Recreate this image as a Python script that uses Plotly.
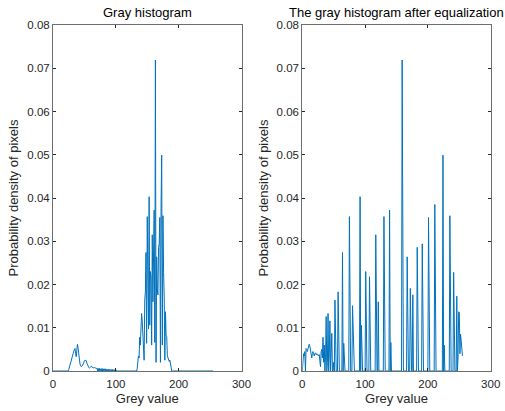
import plotly.graph_objects as go

# ---------------- data ----------------
grey_levels = list(range(256))

# Original histogram: non-zero grey levels and their probability densities
orig_levels = [25, 26, 27, 28, 29, 30, 31, 32, 33, 34, 35, 36, 37, 38, 39, 40,
               41, 42, 43, 44, 45, 46, 47, 48, 49, 50, 51, 52, 53, 54, 55, 56,
               57, 58, 59, 60, 61, 62, 63, 64, 65, 66, 67, 68, 69, 70, 72, 74,
               76, 78, 80, 82, 84, 86, 88, 90, 92, 94, 96, 98, 100,
               134, 135, 136, 137, 138, 139, 140, 141, 142, 143, 144, 145, 146,
               147, 148, 149, 150, 151, 152, 153, 154, 155, 156, 157, 158, 159,
               160, 161, 162, 163, 164, 165, 166, 167, 168, 169, 170, 171, 172,
               173, 174, 175, 176, 177, 178, 179, 180, 181, 182, 183, 184, 185,
               186, 187, 188]
orig_values = [0.0003, 0.0008, 0.0015, 0.0020, 0.0022, 0.0024, 0.0030, 0.0040,
               0.0046, 0.0050, 0.0052, 0.0040, 0.0033, 0.0050, 0.0062, 0.0052,
               0.0035, 0.0022, 0.0016, 0.0012, 0.0010, 0.0011, 0.0013, 0.0016,
               0.0020, 0.0024, 0.0023, 0.0025, 0.0024, 0.0018, 0.0013, 0.0010,
               0.0008, 0.0007, 0.0008, 0.0010, 0.0011, 0.0009, 0.0008, 0.0008,
               0.0007, 0.0008, 0.0007, 0.0007, 0.0006, 0.0007, 0.0006, 0.0006,
               0.0005, 0.0006, 0.0005, 0.0005, 0.0005, 0.0004, 0.0004, 0.0004,
               0.0003, 0.0004, 0.0003, 0.0003, 0.0002,
               0.0005, 0.0033, 0.0035, 0.0030, 0.0078, 0.0060, 0.0126, 0.0133,
               0.0116, 0.0087, 0.0087, 0.0025, 0.0164, 0.0183, 0.0274, 0.0064,
               0.0357, 0.0151, 0.0097, 0.0403, 0.0106, 0.0230, 0.0218, 0.0060,
               0.0315, 0.0160, 0.0357, 0.0372, 0.0066, 0.0719, 0.0020, 0.0264,
               0.0191, 0.0176, 0.0286, 0.0294, 0.0355, 0.0020, 0.0385, 0.0499,
               0.0060, 0.0359, 0.0228, 0.0173, 0.0025, 0.0137, 0.0083, 0.0080,
               0.0035, 0.0028, 0.0025, 0.0022, 0.0025, 0.0015, 0.0008]

# Equalized histogram: non-zero grey levels and their probability densities
eq_levels = [1, 2, 3, 4, 6, 7, 8, 9, 10, 11, 12, 13, 14, 15, 16, 17, 18, 19,
             20, 21, 22, 23, 24, 25, 26, 27, 28, 29, 30, 31, 32, 33, 34, 35,
             37, 38, 40, 41, 43, 44, 46, 47, 50, 52, 57, 64, 66, 75, 80, 81,
             92, 94, 101, 107, 108, 117, 121, 130, 139, 141, 159, 167, 172,
             176, 183, 191, 201, 211, 224, 226, 235, 241, 246, 248, 249, 250,
             251, 252, 253, 254, 255]
eq_values = [0.0038, 0.0040, 0.0035, 0.0045, 0.0052, 0.0050, 0.0045, 0.0050,
             0.0058, 0.0062, 0.0058, 0.0050, 0.0045, 0.0030, 0.0040, 0.0045,
             0.0040, 0.0035, 0.0040, 0.0042, 0.0038, 0.0040, 0.0037, 0.0038,
             0.0035, 0.0038, 0.0022, 0.0010, 0.0045, 0.0050, 0.0030, 0.0078,
             0.0020, 0.0060, 0.0030, 0.0126, 0.0020, 0.0133, 0.0040, 0.0116,
             0.0087, 0.0087, 0.0020, 0.0164, 0.0183, 0.0274, 0.0064, 0.0357,
             0.0151, 0.0097, 0.0403, 0.0106, 0.0230, 0.0218, 0.0060, 0.0315,
             0.0160, 0.0357, 0.0372, 0.0066, 0.0719, 0.0264, 0.0191, 0.0176,
             0.0286, 0.0294, 0.0355, 0.0385, 0.0499, 0.0060, 0.0359, 0.0228,
             0.0173, 0.0030, 0.0137, 0.0135, 0.0040, 0.0085, 0.0070, 0.0037,
             0.0035]

x_ticks = [0, 100, 200, 300]
y_ticks = [0, 0.01, 0.02, 0.03, 0.04, 0.05, 0.06, 0.07, 0.08]
y_tick_labels = ["0", "0.01", "0.02", "0.03", "0.04", "0.05", "0.06", "0.07", "0.08"]

titles = ["Gray histogram", "The gray histogram after equalization"]
x_label = "Grey value"
y_label = "Probability density of pixels"

# full 256-level arrays (zero where no pixels)
orig_map = dict(zip(orig_levels, orig_values))
eq_map = dict(zip(eq_levels, eq_values))
orig_hist = [orig_map.get(g, 0.0) for g in grey_levels]
eq_hist = [eq_map.get(g, 0.0) for g in grey_levels]

# ---------------- figure ----------------
LINE = "#0072BD"
AXC = "#262626"
FONT = "Liberation Sans, Arial, Helvetica, sans-serif"

fig = go.Figure()
fig.add_trace(go.Scatter(x=grey_levels, y=orig_hist, mode="lines",
                         line=dict(color=LINE, width=1), xaxis="x", yaxis="y",
                         showlegend=False))
fig.add_trace(go.Scatter(x=grey_levels, y=eq_hist, mode="lines",
                         line=dict(color=LINE, width=1), xaxis="x2", yaxis="y2",
                         showlegend=False))

W, H = 505, 411
ax_top = 25
ax_bot = 371
ydom = [1 - ax_bot / H, 1 - ax_top / H]
xdom1 = [53 / W, 241.5 / W]
xdom2 = [302.3 / W, 490.7 / W]

def xaxis_cfg(dom, anchor):
    return dict(domain=dom, anchor=anchor, range=[0, 300], tickvals=x_ticks,
                ticks="inside", ticklen=3, tickcolor=AXC, showline=True,
                linecolor="#6e6e6e", linewidth=1, mirror="ticks", showgrid=False,
                zeroline=False, automargin=False, ticklabelstandoff=2,
                tickfont=dict(size=11.5, color=AXC, family=FONT),
                title=dict(text=x_label, font=dict(size=13, color=AXC, family=FONT),
                           standoff=5))

def yaxis_cfg(anchor):
    return dict(domain=ydom, anchor=anchor, range=[0, 0.08], tickvals=y_ticks,
                ticktext=y_tick_labels, ticks="inside", ticklen=3, tickcolor=AXC,
                showline=True, linecolor="#6e6e6e", linewidth=1, mirror="ticks",
                showgrid=False, zeroline=False, automargin=False,
                tickfont=dict(size=11.5, color=AXC, family=FONT),
                title=dict(text=y_label, font=dict(size=13, color=AXC, family=FONT),
                           standoff=5))

fig.update_layout(
    width=W, height=H,
    margin=dict(l=0, r=0, t=0, b=0),
    paper_bgcolor="white", plot_bgcolor="white",
    xaxis=xaxis_cfg(xdom1, "y"),
    yaxis=yaxis_cfg("x"),
    xaxis2=xaxis_cfg(xdom2, "y2"),
    yaxis2=yaxis_cfg("x2"),
    annotations=[
        dict(text=titles[0], x=(xdom1[0] + xdom1[1]) / 2, y=1 - 13 / H,
             xref="paper", yref="paper", showarrow=False, xanchor="center",
             yanchor="middle", font=dict(size=13, color="black", family=FONT)),
        dict(text=titles[1], x=(xdom2[0] + xdom2[1]) / 2, y=1 - 13 / H,
             xref="paper", yref="paper", showarrow=False, xanchor="center",
             yanchor="middle", font=dict(size=13, color="black", family=FONT)),
    ],
)

fig.write_html(
    "out.html",
    config={"displayModeBar": False},
    post_script="document.body.style.margin='0px';document.body.style.overflow='hidden';",
)
